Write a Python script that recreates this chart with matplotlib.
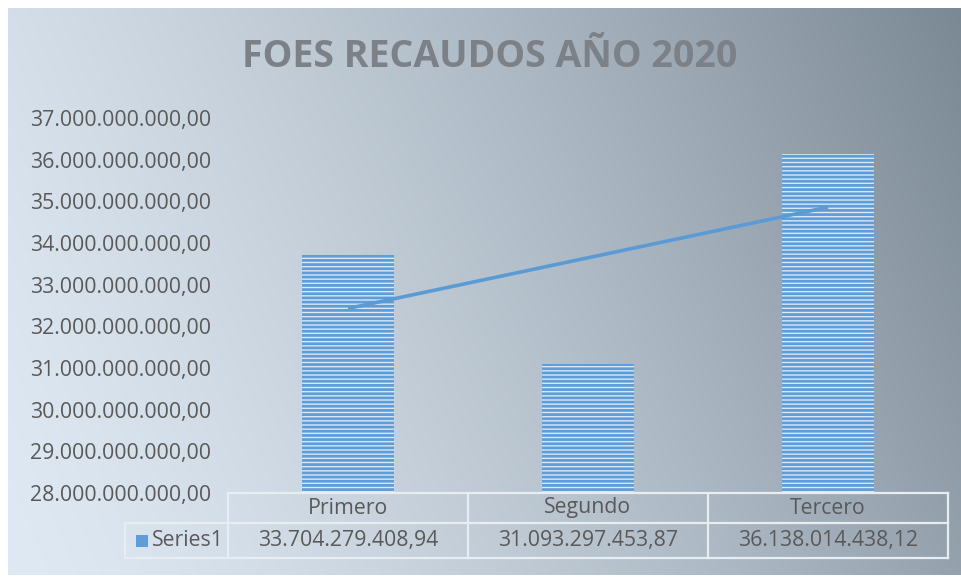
import numpy as np
import matplotlib
matplotlib.use("Agg")
import matplotlib.pyplot as plt
from matplotlib.patches import Rectangle
from matplotlib.transforms import blended_transform_factory

# data
categories = ["Primero", "Segundo", "Tercero"]
values = [33704279408.94, 31093297453.87, 36138014438.12]
series_name = "Series1"
title = "FOES RECAUDOS AÑO 2020"
y_min, y_max, y_step = 28e9, 37e9, 1e9


def fmt_es(v):
    # 33.704.279.408,94
    s = f"{v:,.2f}"
    return s.replace(",", "X").replace(".", ",").replace("X", ".")


plt.rcParams["font.family"] = ["Open Sans", "DejaVu Sans"]
plt.rcParams["hatch.linewidth"] = 2.0
FS = 15.3
TXT = "#595959"

W, H = 962, 579
fig = plt.figure(figsize=(W / 100, H / 100), dpi=100)
fig.patch.set_facecolor("white")

# background gradient (light lower-left -> dark upper-right)
bg = fig.add_axes([0, 0, 1, 1], zorder=0)
bg.set_axis_off()
gx, gy = np.meshgrid(np.linspace(0, 1, 300), np.linspace(0, 1, 200))
t = np.clip(0.8 * gx + 0.2 * (1 - gy), 0, 1) ** 1.35
light = np.array([0xdf, 0xe9, 0xf3]) / 255
dark = np.array([0x7b, 0x89, 0x95]) / 255
img = light + (dark - light) * t[..., None]
bg.imshow(img, extent=[8, W, H - 4, 8], aspect="auto")
bg.set_xlim(0, W)
bg.set_ylim(H, 0)

# main plot area
ax = fig.add_axes([228 / W, (H - 493) / H, 720 / W, 375 / H], zorder=1)
ax.patch.set_alpha(0)
x = np.arange(len(categories))
ax.bar(x, values, width=0.383, bottom=0, facecolor="#d9e8f7",
       edgecolor="#5e9dd8", linewidth=0, hatch="----", zorder=2)

# linear trendline
k, b = np.polyfit(x, values, 1)
ax.plot([x[0], x[-1]], [k * x[0] + b, k * x[-1] + b],
        color="#5b9bd5", lw=2.6, zorder=3, solid_capstyle="butt")

ax.set_xlim(-0.5, len(categories) - 0.5)
ax.set_ylim(y_min, y_max)
yt = np.arange(y_min, y_max + 1, y_step)
ax.set_yticks(yt)
ax.set_yticklabels([fmt_es(v) for v in yt], fontsize=FS, color=TXT)
ax.tick_params(axis="y", length=0, pad=12)
ax.set_xticks([])
for sp in ax.spines.values():
    sp.set_visible(False)

# data table
tr = blended_transform_factory(ax.transData, ax.transAxes)
line_kw = dict(color="#e8edf2", lw=1.6, transform=tr, clip_on=False, zorder=4)
x_left, x_right = -0.5, len(categories) - 0.5
x_leg = -0.929
y0, y1, y2 = 0.0, -0.08, -0.173
ax.plot([x_left, x_right], [y0, y0], **line_kw)
ax.plot([x_leg, x_right], [y1, y1], **line_kw)
ax.plot([x_leg, x_right], [y2, y2], **line_kw)
ax.plot([x_leg, x_leg], [y1, y2], **line_kw)
for xv in np.arange(len(categories) + 1) - 0.5:
    ax.plot([xv, xv], [y0, y2], **line_kw)

for i, (c, v) in enumerate(zip(categories, values)):
    ax.text(i, (y0 + y1) / 2, c, transform=tr, ha="center", va="center",
            fontsize=FS, color=TXT)
    ax.text(i, (y1 + y2) / 2, fmt_es(v), transform=tr, ha="center", va="center",
            fontsize=FS, color=TXT)

ax.add_patch(Rectangle((-0.883, -0.144), 0.05, 0.032, transform=tr, clip_on=False,
                       facecolor="#d9e8f7", edgecolor="#5e9dd8", lw=0,
                       hatch="------", zorder=4))
ax.text(-0.818, (y1 + y2) / 2, series_name, transform=tr, ha="left", va="center",
        fontsize=FS, color=TXT)

# title
fig.text(490 / W, 1 - 57 / H, title, ha="center", va="center", fontsize=27,
         fontweight="bold", color="#7c8187")

fig.savefig("out.png", dpi=100)
